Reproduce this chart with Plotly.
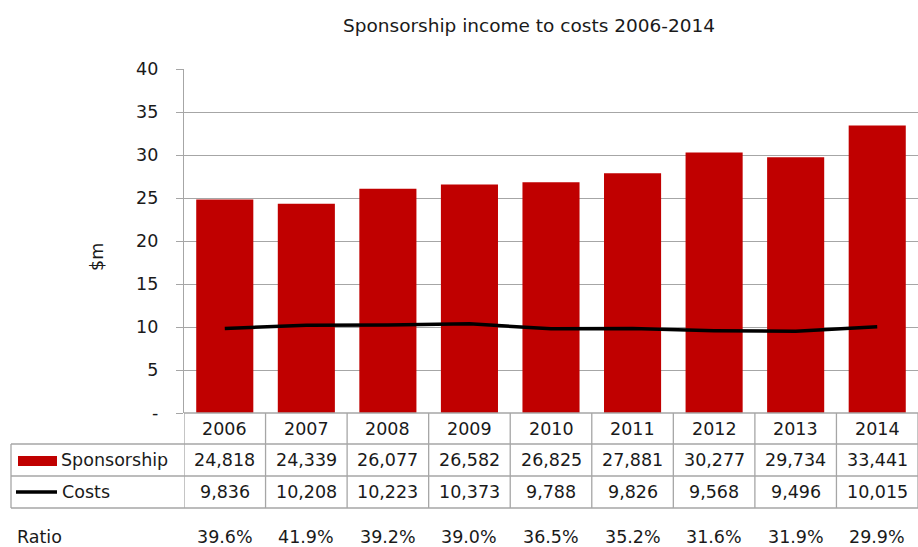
import plotly.graph_objects as go

# Annual figures ($ thousands)
years = ["2006", "2007", "2008", "2009", "2010", "2011", "2012", "2013", "2014"]
sponsorship = [24818, 24339, 26077, 26582, 26825, 27881, 30277, 29734, 33441]
costs = [9836, 10208, 10223, 10373, 9788, 9826, 9568, 9496, 10015]
ratio = ["39.6%", "41.9%", "39.2%", "39.0%", "36.5%", "35.2%", "31.6%", "31.9%", "29.9%"]

y_ticks = [0, 5, 10, 15, 20, 25, 30, 35, 40]
y_ticktext = ["-", "5", "10", "15", "20", "25", "30", "35", "40"]

W, H = 918, 547
L, R, T, B = 184, 0, 69, 134
PW, PH = W - L - R, H - T - B
FONT = "DejaVu Sans"
TXT = "#1a1a1a"
GRID = "#a6a6a6"
RED = "#C00000"


def py(px):
    """Pixel row -> paper y."""
    return (H - B - px) / PH


def px_x(px):
    """Pixel column -> paper x."""
    return (px - L) / PW


fig = go.Figure()
fig.add_trace(go.Bar(
    x=list(range(len(years))), y=[v / 1000 for v in sponsorship],
    marker=dict(color=RED, line=dict(width=0)), width=0.7,
    name="Sponsorship", showlegend=False,
))
fig.add_trace(go.Scatter(
    x=list(range(len(years))), y=[v / 1000 for v in costs],
    mode="lines", line=dict(color="black", width=3.5),
    name="Costs", showlegend=False,
))

shapes = []
line_style = dict(color=GRID, width=1.3)
# horizontal rules of the data table
shapes.append(dict(type="line", xref="x", yref="paper", x0=-0.5, x1=8.5,
                   y0=py(413), y1=py(413), line=line_style))
for ypx in (444, 476, 508):
    shapes.append(dict(type="line", xref="paper", yref="paper",
                       x0=px_x(11), x1=1, y0=py(ypx), y1=py(ypx), line=line_style))
# column dividers
for i in range(len(years) + 1):
    shapes.append(dict(type="line", xref="x", yref="paper", x0=i - 0.5, x1=i - 0.5,
                       y0=py(413), y1=py(508), line=line_style))
# left border of the series rows
shapes.append(dict(type="line", xref="paper", yref="paper", x0=px_x(11), x1=px_x(11),
                   y0=py(444), y1=py(508), line=line_style))
# legend keys
shapes.append(dict(type="rect", xref="paper", yref="paper", x0=px_x(18), x1=px_x(57),
                   y0=py(466), y1=py(456), fillcolor=RED, line=dict(width=0)))
shapes.append(dict(type="line", xref="paper", yref="paper", x0=px_x(16), x1=px_x(57),
                   y0=py(492), y1=py(492), line=dict(color="black", width=3.5)))

ann = []
fs = 17.5
for i, yr in enumerate(years):
    ann.append(dict(x=i, y=py(429), xref="x", yref="paper", text=yr, showarrow=False,
                    font=dict(size=fs), yanchor="middle"))
    ann.append(dict(x=i, y=py(460), xref="x", yref="paper", text=f"{sponsorship[i]:,}",
                    showarrow=False, font=dict(size=fs), yanchor="middle"))
    ann.append(dict(x=i, y=py(492), xref="x", yref="paper", text=f"{costs[i]:,}",
                    showarrow=False, font=dict(size=fs), yanchor="middle"))
    ann.append(dict(x=i, y=py(537), xref="x", yref="paper", text=ratio[i],
                    showarrow=False, font=dict(size=fs), yanchor="middle"))
ann.append(dict(x=px_x(59), y=py(460), xref="paper", yref="paper", text="Sponsorship",
                showarrow=False, font=dict(size=fs), xanchor="left", yanchor="middle"))
ann.append(dict(x=px_x(60), y=py(492), xref="paper", yref="paper", text="Costs",
                showarrow=False, font=dict(size=fs), xanchor="left", yanchor="middle"))
ann.append(dict(x=px_x(15), y=py(537), xref="paper", yref="paper", text="Ratio",
                showarrow=False, font=dict(size=fs), xanchor="left", yanchor="middle"))
ann.append(dict(x=px_x(97), y=py(257), xref="paper", yref="paper", text="$m",
                showarrow=False, font=dict(size=fs), textangle=-90,
                xanchor="center", yanchor="middle"))

fig.update_layout(
    width=W, height=H,
    margin=dict(l=L, r=R, t=T, b=B),
    paper_bgcolor="white", plot_bgcolor="white",
    font=dict(family=FONT, color=TXT, size=fs),
    title=dict(text="Sponsorship income to costs 2006-2014", x=529 / W, xanchor="center",
               y=1 - 26 / H, yanchor="middle", font=dict(size=18.5)),
    xaxis=dict(range=[-0.5, 8.5], showticklabels=False, showgrid=False, zeroline=False,
               showline=False, fixedrange=True),
    yaxis=dict(range=[0, 40], tickvals=y_ticks, ticktext=y_ticktext,
               showgrid=True, gridcolor=GRID, gridwidth=1.3, zeroline=False,
               showline=True, linecolor=GRID, linewidth=1.3,
               ticks="outside", ticklen=7, tickcolor=GRID, tickwidth=1.3,
               ticklabelstandoff=14, tickfont=dict(size=17.5)),
    shapes=shapes, annotations=ann, bargap=0.3,
)

fig.write_html("out.html")
